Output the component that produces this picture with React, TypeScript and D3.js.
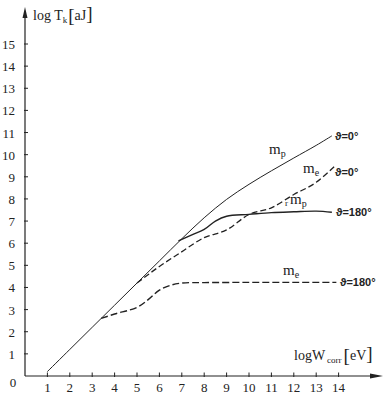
import * as d3 from "d3";

const W = 388;
const H = 402;

// log W_corr [eV] on x, log T_k [aJ] on y
const xTicks = [1, 2, 3, 4, 5, 6, 7, 8, 9, 10, 11, 12, 13, 14];
const yTicks = [1, 2, 3, 4, 5, 6, 7, 8, 9, 10, 11, 12, 13, 14, 15];

const mp0X = [1, 2, 3, 4, 5, 6, 7, 8, 9, 10, 11, 12, 13, 13.7];
const mp0Y = [0.2, 1.2, 2.2, 3.2, 4.2, 5.2, 6.2, 7.15, 7.98, 8.66, 9.27, 9.85, 10.42, 10.85];

const me0X = [5, 6, 6.9, 8, 9, 10, 11, 12, 13, 13.8];
const me0Y = [4.2, 4.95, 5.55, 6.25, 6.6, 7.3, 7.6, 8.2, 8.75, 9.45];

const mp180X = [6.85, 7.5, 8, 8.5, 9, 10, 11, 12, 13, 13.7];
const mp180Y = [6.1, 6.4, 6.62, 7.0, 7.22, 7.3, 7.38, 7.42, 7.45, 7.4];

const me180X = [3.4, 4, 5, 5.5, 6, 6.5, 7, 8, 10, 12, 13.9];
const me180Y = [2.6, 2.8, 3.1, 3.45, 3.88, 4.1, 4.2, 4.22, 4.23, 4.23, 4.23];

const x = d3.scaleLinear().domain([0, 14]).range([25, 338.6]);
const y = d3.scaleLinear().domain([0, 15]).range([376, 44]);

const smooth = d3
  .line<[number, number]>()
  .x((d) => x(d[0]))
  .y((d) => y(d[1]))
  .curve(d3.curveCatmullRom.alpha(0.5));

const monotone = d3
  .line<[number, number]>()
  .x((d) => x(d[0]))
  .y((d) => y(d[1]))
  .curve(d3.curveMonotoneX);

const zip = (xs: number[], ys: number[]) =>
  xs.map((v, i) => [v, ys[i]] as [number, number]);

const ink = "#222";
const serif = "'Liberation Serif', 'Times New Roman', serif";
const sans = "'Liberation Sans', Arial, sans-serif";

function Mass({ px, py, sub }: { px: number; py: number; sub: string }) {
  return (
    <text x={px} y={py} style={{ fontFamily: serif }} fontSize={15} fill={ink}>
      m
      <tspan fontSize={10} dy={3}>
        {sub}
      </tspan>
    </text>
  );
}

function Angle({ px, py, label }: { px: number; py: number; label: string }) {
  return (
    <text
      x={px}
      y={py}
      style={{ fontFamily: sans }}
      fontSize={11}
      fontWeight={600}
      fill={ink}
    >
      {label}
    </text>
  );
}

export default function App() {
  return (
    <svg
      width={W}
      height={H}
      viewBox={`0 0 ${W} ${H}`}
      style={{ position: "absolute", left: 0, top: 0, background: "#fff" }}
    >
      {/* axes */}
      <line x1={25} y1={376} x2={25} y2={12} stroke={ink} strokeWidth={1.2} />
      <path d="M25,7 L22.5,18 L27.5,18 Z" fill={ink} />
      <line x1={25} y1={376} x2={378} y2={376} stroke={ink} strokeWidth={1.2} />
      <path d="M383,376 L370,373.5 L370,378.5 Z" fill={ink} />

      {yTicks.map((t) => (
        <g key={`y${t}`}>
          <line x1={24} x2={28} y1={y(t)} y2={y(t)} stroke={ink} />
          <text
            x={15}
            y={y(t) + 5}
            textAnchor="end"
            style={{ fontFamily: serif }}
            fontSize={13}
            fill={ink}
          >
            {t}
          </text>
        </g>
      ))}
      <text
        x={13}
        y={387}
        textAnchor="middle"
        style={{ fontFamily: serif }}
        fontSize={13}
        fill={ink}
      >
        0
      </text>
      {xTicks.map((t) => (
        <g key={`x${t}`}>
          <line x1={x(t)} x2={x(t)} y1={377} y2={372.5} stroke={ink} />
          <text
            x={x(t)}
            y={392}
            textAnchor="middle"
            style={{ fontFamily: serif }}
            fontSize={13}
            fill={ink}
          >
            {t}
          </text>
        </g>
      ))}

      {/* axis titles */}
      <text x={33} y={20} style={{ fontFamily: serif }} fontSize={14} fill={ink}>
        log T
        <tspan fontSize={9} dy={3}>
          k
        </tspan>
        <tspan fontSize={19} dy={-1} dx={1}>
          [
        </tspan>
        <tspan fontSize={14} dy={-2}>
          aJ
        </tspan>
        <tspan fontSize={19}>]</tspan>
      </text>
      <text x={294} y={360} style={{ fontFamily: serif }} fontSize={14} fill={ink}>
        logW
        <tspan fontSize={9} dy={3} dx={2}>
          corr
        </tspan>
        <tspan fontSize={19} dy={-1} dx={2}>
          [
        </tspan>
        <tspan fontSize={14} dy={-2}>
          eV
        </tspan>
        <tspan fontSize={19}>]</tspan>
      </text>

      {/* curves */}
      <path d={smooth(zip(mp0X, mp0Y)) ?? ""} fill="none" stroke={ink} strokeWidth={1} />
      <path
        d={monotone(zip(me0X, me0Y)) ?? ""}
        fill="none"
        stroke={ink}
        strokeWidth={1.3}
        strokeDasharray="6 3"
      />
      <path
        d={smooth(zip(mp180X, mp180Y)) ?? ""}
        fill="none"
        stroke={ink}
        strokeWidth={1.4}
      />
      <path
        d={smooth(zip(me180X, me180Y)) ?? ""}
        fill="none"
        stroke={ink}
        strokeWidth={1.4}
        strokeDasharray="7 3"
      />

      {/* curve labels */}
      <Mass px={269} py={154} sub="p" />
      <Mass px={303} py={173} sub="e" />
      <text x={285} y={206} style={{ fontFamily: serif }} fontSize={9} fill={ink}>
        r
      </text>
      <Mass px={290} py={204} sub="p" />
      <Mass px={283} py={275} sub="e" />

      <Angle px={335} py={140} label="ϑ=0°" />
      <Angle px={335} py={176} label="ϑ=0°" />
      <Angle px={336} py={216} label="ϑ=180°" />
      <Angle px={340} py={286} label="ϑ=180°" />
    </svg>
  );
}
